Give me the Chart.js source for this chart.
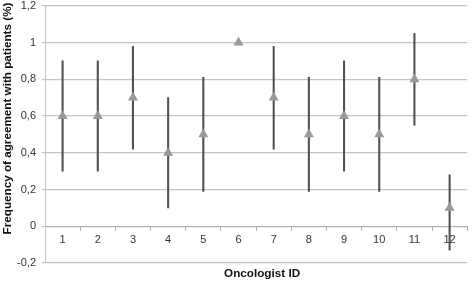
<!DOCTYPE html>
<html>
<head>
<meta charset="utf-8">
<script src="https://cdn.jsdelivr.net/npm/chart.js@4/dist/chart.umd.min.js"></script>
<style>
  html, body { margin: 0; padding: 0; background: #fff; }
  #wrap { width: 473px; height: 282px; position: relative; }
</style>
</head>
<body>
<div id="wrap"><canvas id="c" width="473" height="282"></canvas></div>
<script>
// ---- data ----
const categories = ['1', '2', '3', '4', '5', '6', '7', '8', '9', '10', '11', '12'];
const agreement  = [0.6, 0.6, 0.7, 0.4, 0.5, 1.0, 0.7, 0.5, 0.6, 0.5, 0.8, 0.1];
const lowerCI    = [0.3, 0.3, 0.42, 0.1, 0.19, null, 0.42, 0.19, 0.3, 0.19, 0.55, -0.13];
const upperCI    = [0.9, 0.9, 0.98, 0.7, 0.81, null, 0.98, 0.81, 0.9, 0.81, 1.05, 0.28];
const yTicks     = [-0.2, 0, 0.2, 0.4, 0.6, 0.8, 1.0, 1.2];
const xTitle = 'Oncologist ID';
const yTitle = 'Frequency of agreement with patients (%)';

const FONT = '"Liberation Sans", Arial, Helvetica, sans-serif';

const ranges = categories.map((c, i) =>
  (lowerCI[i] === null || upperCI[i] === null) ? null : [lowerCI[i], upperCI[i]]);

const titlePlugin = {
  id: 'axisTitles',
  afterDraw(chart) {
    const ctx = chart.ctx;
    const area = chart.chartArea;
    ctx.save();
    ctx.fillStyle = '#111';
    ctx.font = 'bold 11.7px ' + FONT;
    ctx.textAlign = 'center';
    ctx.textBaseline = 'middle';
    ctx.fillText(xTitle, (area.left + area.right) / 2 + 6, 274);
    ctx.translate(8, 118.5);
    ctx.rotate(-Math.PI / 2);
    ctx.fillText(yTitle, 0, 0);
    ctx.restore();
  }
};

new Chart(document.getElementById('c'), {
  data: {
    labels: categories,
    datasets: [
      {
        type: 'line',
        data: agreement,
        showLine: false,
        pointStyle: 'triangle',
        pointRadius: 5.8,
        pointBackgroundColor: '#999999',
        pointBorderColor: '#999999',
        pointBorderWidth: 0,
        order: 0
      },
      {
        type: 'bar',
        data: ranges,
        backgroundColor: '#505050',
        borderWidth: 0,
        barThickness: 1.4,
        order: 1
      }
    ]
  },
  options: {
    responsive: false,
    animation: false,
    events: [],
    layout: { padding: { top: 5, right: 1, left: 0, bottom: 19 } },
    plugins: { legend: { display: false }, tooltip: { enabled: false }, title: { display: false } },
    scales: {
      x: {
        type: 'category',
        position: { y: 0 },
        offset: true,
        grid: {
          offset: true,
          drawOnChartArea: false,
          drawTicks: true,
          tickLength: 4,
          color: '#b0b0b0',
          lineWidth: 1
        },
        border: { display: true, color: '#b0b0b0', width: 1 },
        ticks: {
          color: '#333',
          font: { family: FONT, size: 11 },
          padding: 3,
          maxRotation: 0,
          autoSkip: false
        },
        afterFit(scale) {
          scale.height = 20;
          scale.paddingLeft = 0;
          scale.paddingRight = 0;
        }
      },
      y: {
        type: 'linear',
        position: 'left',
        min: -0.2,
        max: 1.2,
        afterBuildTicks(scale) {
          scale.ticks = yTicks.map(v => ({ value: v }));
        },
        ticks: {
          color: '#333',
          font: { family: FONT, size: 11 },
          padding: 6,
          callback(v) {
            const r = Math.round(v * 10) / 10;
            return String(r).replace('.', ',');
          }
        },
        grid: {
          color: '#c4c4c4',
          lineWidth: 1.2,
          tickLength: 3,
          drawTicks: true
        },
        border: { display: true, color: '#c4c4c4', width: 1 },
        afterFit(scale) {
          scale.width = 45;
          scale.paddingTop = 0;
          scale.paddingBottom = 0;
        }
      }
    }
  },
  plugins: [titlePlugin]
});
</script>
</body>
</html>
